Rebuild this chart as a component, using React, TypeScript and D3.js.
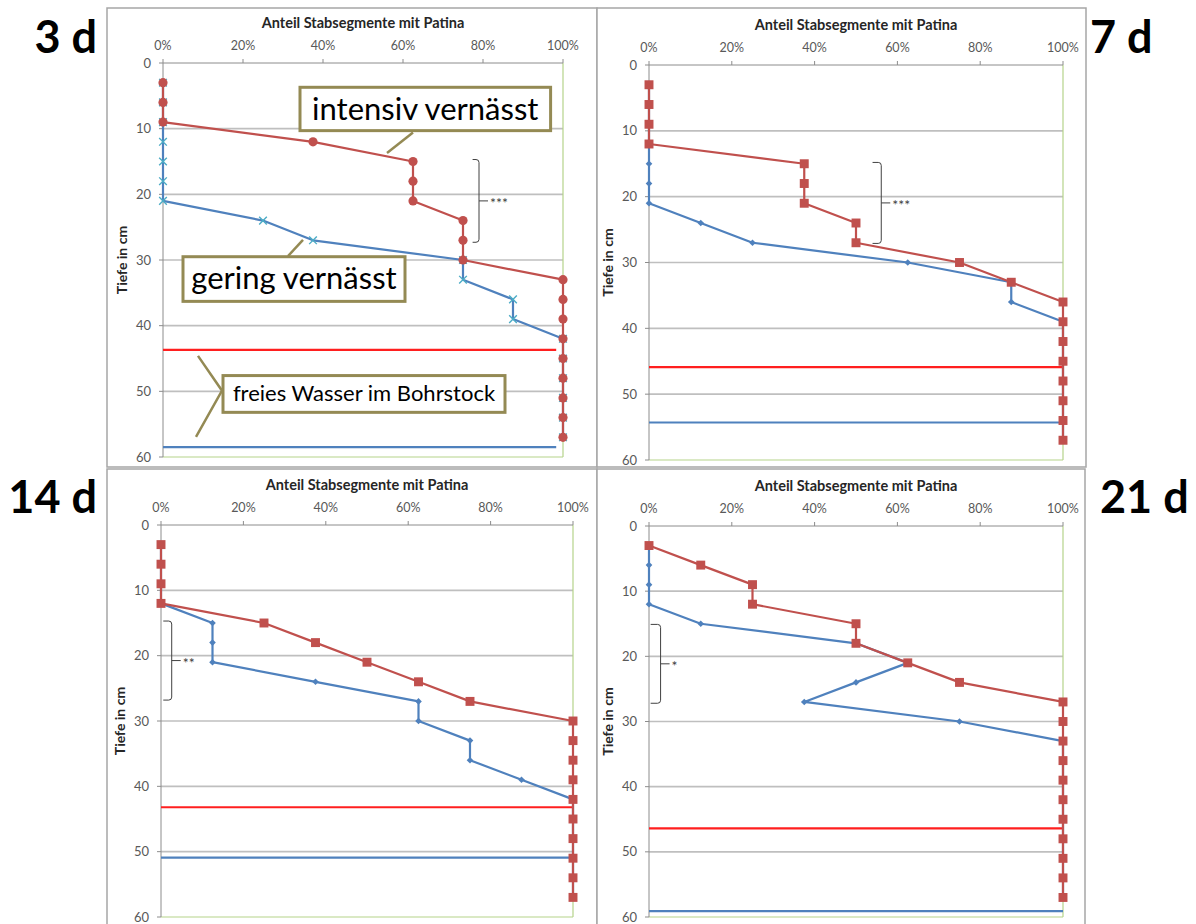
import * as d3 from 'd3';

// Messtiefen (cm)
const depths = [3, 6, 9, 12, 15, 18, 21, 24, 27, 30, 33, 36, 39, 42, 45, 48, 51, 54, 57];

// Anteil Stabsegmente mit Patina (%), je Zeitpunkt
const red3d = [0, 0, 0, 37.5, 62.5, 62.5, 62.5, 75, 75, 75, 100, 100, 100, 100, 100, 100, 100, 100, 100];
const blue3d = [0, 0, 0, 0, 0, 0, 0, 25, 37.5, 75, 75, 87.5, 87.5, 100, 100, 100, 100, 100, 100];
const red7d = [0, 0, 0, 0, 37.5, 37.5, 37.5, 50, 50, 75, 87.5, 100, 100, 100, 100, 100, 100, 100, 100];
const blue7d = [0, 0, 0, 0, 0, 0, 0, 12.5, 25, 62.5, 87.5, 87.5, 100, 100, 100, 100, 100, 100, 100];
const red14d = [0, 0, 0, 0, 25, 37.5, 50, 62.5, 75, 100, 100, 100, 100, 100, 100, 100, 100, 100, 100];
const blue14d = [0, 0, 0, 0, 12.5, 12.5, 12.5, 37.5, 62.5, 62.5, 75, 75, 87.5, 100, 100, 100, 100, 100, 100];
const red21d = [0, 12.5, 25, 25, 50, 50, 62.5, 75, 100, 100, 100, 100, 100, 100, 100, 100, 100, 100, 100];
const blue21d = [0, 0, 0, 0, 12.5, 50, 62.5, 50, 37.5, 75, 100, 100, 100, 100, 100, 100, 100, 100, 100];

// freies Wasser im Bohrstock (cm)
const waterRed = [43.7, 45.9, 43.2, 46.4];
const waterBlue = [58.5, 54.3, 50.9, 59.1];

const panelLabels = ['3 d', '7 d', '14 d', '21 d'];
const sigLabels = ['***', '***', '**', '*'];
const sigRanges = [[14.7, 27.3], [14.8, 27.1], [14.7, 26.8], [15.1, 27.2]];

const xTicks = [0, 20, 40, 60, 80, 100];
const yTicks = [0, 10, 20, 30, 40, 50, 60];

const RED_SERIES = [red3d, red7d, red14d, red21d];
const BLUE_SERIES = [blue3d, blue7d, blue14d, blue21d];

const RED = '#c0504d';
const BLUE = '#4f81bd';
const CYAN = '#4bacc6';
const OLIVE = '#948a54';
const FONT = 'Lato, "Open Sans", sans-serif';

// layout of the four panels (pixels)
const LAYOUT = [
  { bx: 107, by: 8, bw: 490, bh: 459, x0: 163, x1: 563, y0: 63, y1: 457, waterEnd: 98.3, br: [77.4, 79.0], lx: 97, ly: 53, anchor: 'end' },
  { bx: 597, by: 8, bw: 489, bh: 459, x0: 649, x1: 1063, y0: 65, y1: 460, waterEnd: 100, br: [54.0, 56.1], lx: 1090, ly: 53, anchor: 'start' },
  { bx: 107, by: 469, bw: 490, bh: 470, x0: 161, x1: 573, y0: 525, y1: 917, waterEnd: 100, br: [0.55, 2.6], lx: 97, ly: 513, anchor: 'end' },
  { bx: 597, by: 469, bw: 488, bh: 470, x0: 649, x1: 1063, y0: 526, y1: 917, waterEnd: 100, br: [0.4, 2.8], lx: 1100, ly: 513, anchor: 'start' },
];

function Panel({ i }: { i: number }) {
  const L = LAYOUT[i];
  const x = d3.scaleLinear().domain([0, 100]).range([L.x0, L.x1]);
  const y = d3.scaleLinear().domain([0, 60]).range([L.y0, L.y1]);
  const red = RED_SERIES[i];
  const blue = BLUE_SERIES[i];
  const line = d3.line<number>().x(v => x(v)).y((_, k) => y(depths[k]));

  const circle = d3.symbol(d3.symbolCircle, 66)()!;
  const square = d3.symbol(d3.symbolSquare, 80)()!;
  const diamond = d3.symbol(d3.symbolSquare, 22)()!;
  const cross = d3.symbol(d3.symbolX, 40)()!;

  // significance bracket
  const [s0, s1] = sigRanges[i];
  const bxa = x(L.br[0]);
  const bxb = x(L.br[1]);
  const byt = y(s0);
  const byb = y(s1);
  const bym = (byt + byb) / 2;
  const r = 3;
  const bracket = `M${bxa},${byt} L${bxb - r},${byt} Q${bxb},${byt} ${bxb},${byt + r} L${bxb},${byb - r} Q${bxb},${byb} ${bxb - r},${byb} L${bxa},${byb} M${bxb},${bym} L${bxb + 9},${bym}`;

  return (
    <g>
      <rect x={L.bx} y={L.by} width={L.bw} height={L.bh} fill="#fff" stroke="#a6a6a6" strokeWidth={1.5} />
      <text x={L.lx} y={L.ly} textAnchor={L.anchor as any} fontFamily={FONT} fontWeight={700} fontSize={45} fill="#000">{panelLabels[i]}</text>

      {/* grid */}
      {yTicks.filter(t => t > 0 && t < 60).map(t => (
        <line key={t} x1={L.x0} x2={L.x1} y1={y(t)} y2={y(t)} stroke="#bfbfbf" strokeWidth={1.6} />
      ))}
      {/* plot frame */}
      <line x1={L.x1} x2={L.x1} y1={L.y0} y2={L.y1} stroke="#b5d38a" strokeWidth={1.2} />
      <line x1={L.x0} x2={L.x1} y1={L.y1} y2={L.y1} stroke="#b5d38a" strokeWidth={1.2} />
      <line x1={L.x0} x2={L.x1} y1={L.y0} y2={L.y0} stroke="#8c8c8c" strokeWidth={1} />
      <line x1={L.x0} x2={L.x0} y1={L.y0} y2={L.y1} stroke="#8c8c8c" strokeWidth={1} />
      {xTicks.map(t => (
        <g key={t}>
          <line x1={x(t)} x2={x(t)} y1={L.y0 - 4} y2={L.y0} stroke="#8c8c8c" />
          <text x={x(t)} y={L.y0 - 13} textAnchor="middle" fontFamily={FONT} fontSize={12.5} fill="#595959">{t}%</text>
        </g>
      ))}
      {yTicks.map(t => (
        <g key={t}>
          <line x1={L.x0 - 4} x2={L.x0} y1={y(t)} y2={y(t)} stroke="#8c8c8c" />
          <text x={L.x0 - 12} y={y(t) + 4.5} textAnchor="end" fontFamily={FONT} fontSize={13} fill="#595959">{t}</text>
        </g>
      ))}
      <text x={(L.x0 + L.x1) / 2} y={L.y0 - 35} textAnchor="middle" fontFamily={FONT} fontWeight={700} fontSize={14.5} fill="#262626">Anteil Stabsegmente mit Patina</text>
      <text transform={`translate(${L.x0 - 36},${(L.y0 + L.y1) / 2}) rotate(-90)`} textAnchor="middle" fontFamily={FONT} fontWeight={700} fontSize={14} fill="#262626">Tiefe in cm</text>

      {/* water levels */}
      <line x1={L.x0} x2={x(L.waterEnd)} y1={y(waterRed[i])} y2={y(waterRed[i])} stroke="#ff1f1f" strokeWidth={2.2} />
      <line x1={L.x0} x2={x(L.waterEnd)} y1={y(waterBlue[i])} y2={y(waterBlue[i])} stroke={BLUE} strokeWidth={2.2} />

      {/* gering vernässt */}
      <path d={line(blue)!} fill="none" stroke={BLUE} strokeWidth={2.2} strokeLinejoin="round" />
      {blue.map((v, k) => i === 0
        ? <path key={k} d={cross} transform={`translate(${x(v)},${y(depths[k])})`} fill="none" stroke={CYAN} strokeWidth={1.4} />
        : <path key={k} d={diamond} transform={`translate(${x(v)},${y(depths[k])}) rotate(45)`} fill={BLUE} />)}

      {/* intensiv vernässt */}
      <path d={line(red)!} fill="none" stroke={RED} strokeWidth={2.2} strokeLinejoin="round" />
      {red.map((v, k) => (
        <path key={k} d={i === 0 ? circle : square} transform={`translate(${x(v)},${y(depths[k])})`} fill={RED} />
      ))}

      {/* significance */}
      <path d={bracket} fill="none" stroke="#404040" strokeWidth={1} />
      <text x={bxb + 11} y={bym + 7} fontFamily={FONT} fontSize={14} fill="#404040">{sigLabels[i]}</text>

      {i === 0 && <Callouts x={x} y={y} />}
    </g>
  );
}

function Callouts({ x, y }: { x: d3.ScaleLinear<number, number>; y: d3.ScaleLinear<number, number> }) {
  const box = (p0: number, p1: number, d0: number, d1: number) => ({ x: x(p0), y: y(d0), w: x(p1) - x(p0), h: y(d1) - y(d0) });
  const a = box(34.25, 96.9, 3.7, 10.3);
  const b = box(5, 60.5, 29.5, 36.3);
  const c = box(15, 85.5, 47.6, 53.2);
  return (
    <g fontFamily={FONT} fill="#000">
      <line x1={x(62.5)} y1={y(10.6)} x2={x(56)} y2={y(13.7)} stroke={OLIVE} strokeWidth={2.5} />
      <rect x={a.x} y={a.y} width={a.w} height={a.h} fill="#fff" stroke={OLIVE} strokeWidth={3} />
      <text x={a.x + a.w / 2} y={a.y + a.h / 2 + 11} textAnchor="middle" fontSize={31}>intensiv vernässt</text>

      <line x1={x(31.25)} y1={y(29.4)} x2={x(35)} y2={y(26.95)} stroke={OLIVE} strokeWidth={2.5} />
      <rect x={b.x} y={b.y} width={b.w} height={b.h} fill="#fff" stroke={OLIVE} strokeWidth={3} />
      <text x={b.x + b.w / 2} y={b.y + b.h / 2 + 10} textAnchor="middle" fontSize={31}>gering vernässt</text>

      <path d={`M${x(8.75)},${y(44.6)} L${x(14.75)},${y(49.9)} L${x(8.25)},${y(56.95)}`} fill="none" stroke={OLIVE} strokeWidth={2.5} />
      <rect x={c.x} y={c.y} width={c.w} height={c.h} fill="#fff" stroke={OLIVE} strokeWidth={3} />
      <text x={c.x + c.w / 2} y={c.y + c.h / 2 + 7.5} textAnchor="middle" fontSize={22}>freies Wasser im Bohrstock</text>
    </g>
  );
}

export default function App() {
  return (
    <div style={{ position: 'absolute', left: 0, top: 0 }}>
      <svg width={1196} height={924} style={{ display: 'block', background: '#fff' }}>
        {LAYOUT.map((_, i) => <Panel key={i} i={i} />)}
      </svg>
    </div>
  );
}
